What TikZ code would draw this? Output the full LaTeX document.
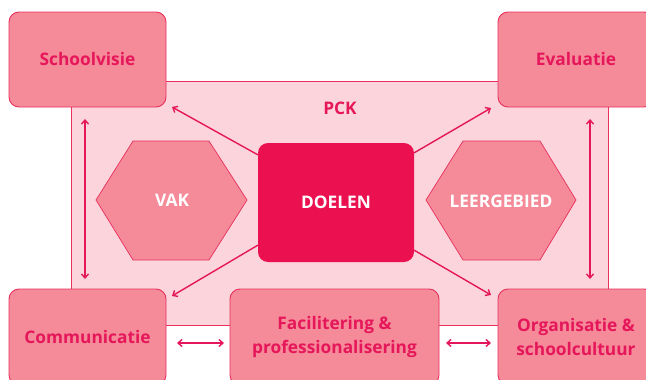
\documentclass[tikz,border=0pt]{standalone}
\usepackage{fontspec}
\setmainfont{Open Sans}
\usetikzlibrary{arrows.meta}
\definecolor{boxfill}{HTML}{F58A99}
\definecolor{boxline}{HTML}{E8305E}
\definecolor{txt}{HTML}{E5175A}
\definecolor{pckfill}{HTML}{FBD5DB}
\definecolor{doel}{HTML}{EB1050}
\tikzset{
  outerbox/.style={draw=boxline, fill=boxfill, line width=0.9pt, rounded corners=10pt},
  lblfont/.style={font=\bfseries\fontsize{17.3}{24}\selectfont},
  lbl/.style={text=txt, lblfont, align=center},
  hexlbl/.style={text=white, lblfont},
  hexa/.style={draw=boxline, fill=boxfill, line width=0.7pt},
  conn/.style={draw=txt, line width=1.4pt, -{Straight Barb[length=4pt,width=7pt,line width=1.4pt]}},
  dconn/.style={draw=txt, line width=1.4pt, {Straight Barb[length=4pt,width=7pt,line width=1.4pt]}-{Straight Barb[length=4pt,width=7pt,line width=1.4pt]}}
}
\begin{document}
\begin{tikzpicture}[x=1pt,y=-1pt]
\useasboundingbox (0,0) rectangle (646,380);
\begin{scope}
\clip (0,0) rectangle (646,380);
% PCK area
\path[draw=boxline, fill=pckfill, line width=0.9pt] (71,81) rectangle (608,325);
\node[text=txt, lblfont] (pck) at (340,108) {PCK};
% hexagons
\path[hexa] (96,200) -- (133,141) -- (209,141) -- (247,200) -- (209,260) -- (133,260) -- cycle;
\node[hexlbl] (vak) at (172,200) {VAK};
\path[hexa] (426,200) -- (463,141) -- (540,141) -- (576,200) -- (540,260) -- (463,260) -- cycle;
\node[hexlbl] (leer) at (501,201) {LEERGEBIED};
% DOELEN
\node[fill=doel, rounded corners=10pt, minimum width=156pt, minimum height=119pt, inner sep=0pt,
      text=white, lblfont] (doelen) at (336,202.5) {DOELEN};
% outer boxes
\node[outerbox, minimum width=157pt, minimum height=95pt, inner sep=0pt, lbl] (school) at (87.5,59.5) {Schoolvisie};
\node[outerbox, minimum width=156pt, minimum height=95pt, inner sep=0pt, lbl] (eval) at (576,59.5) {Evaluatie};
\node[outerbox, minimum width=157pt, minimum height=96pt, inner sep=0pt, lbl] (comm) at (87.5,337) {Communicatie};
\node[outerbox, minimum width=209pt, minimum height=96pt, inner sep=0pt, lbl] (facil) at (334.5,337) {Facilitering \&\\professionalisering};
\node[outerbox, minimum width=156pt, minimum height=96pt, inner sep=0pt, lbl] (org) at (576,337) {Organisatie \&\\schoolcultuur};
\end{scope}
% connectors
\coordinate (a1) at (85,119);
\coordinate (a2) at (85,279);
\draw[dconn] (a1) -- (a2);
\coordinate (b1) at (590,119);
\coordinate (b2) at (590,279);
\draw[dconn] (b1) -- (b2);
\coordinate (c1) at (177,343);
\coordinate (c2) at (224,343);
\draw[dconn] (c1) -- (c2);
\coordinate (d1) at (446,343);
\coordinate (d2) at (491,343);
\draw[dconn] (d1) -- (d2);
\coordinate (t1) at (172,107);
\coordinate (t2) at (491,108);
\coordinate (t3) at (172,296);
\coordinate (t4) at (491,295);
\draw[conn] (doelen.north west) ++(0,12) -- (t1);
\draw[conn] (doelen.north east) ++(0,10) -- (t2);
\draw[conn] (doelen.south west) ++(0,-17) -- (t3);
\draw[conn] (doelen.south east) ++(0,-12) -- (t4);
\end{tikzpicture}
\end{document}
